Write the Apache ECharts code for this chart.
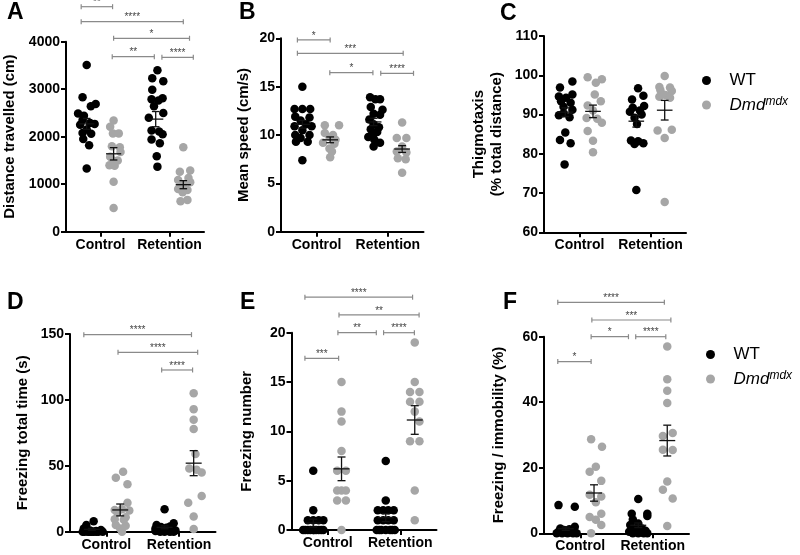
<!DOCTYPE html>
<html><head><meta charset="utf-8">
<script src="https://cdn.jsdelivr.net/npm/echarts@6/dist/echarts.min.js"></script>
<style>html,body{margin:0;padding:0;background:#fff}#c{width:800px;height:555px}</style>
</head><body><div id="c"></div>
<script>
// ---------------- DATA ----------------
const CATEGORIES = ['Control', 'Retention'];
const CATEGORY_X = [1, 3];                 // axis position of each category tick
const GROUP_X = [0.6, 1.38, 2.6, 3.4];     // WT-Control, mdx-Control, WT-Retention, mdx-Retention
const SERIES_NAMES = ['WT', 'Dmd^mdx'];

// Panel A: Distance travelled (cm)
const A_WT_CTRL = [3510, 2830, 2690, 2640, 2490, 2440, 2350, 2290, 2270, 2250, 2150, 2080, 2060, 1950, 1820, 1330];
const A_WT_CTRL_J = [0, -0.12, 0.26, 0.12, -0.25, -0.08, -0.12, 0.1, 0.23, -0.19, 0, -0.12, 0.13, -0.1, 0.07, 0];
const A_MDX_CTRL = [2340, 2210, 2070, 2070, 1800, 1780, 1680, 1580, 1500, 1500, 1400, 1390, 1050, 500];
const A_MDX_CTRL_J = [0, -0.1, -0.02, 0.15, -0.05, 0.18, 0.2, -0.1, -0.02, 0.12, -0.12, 0.03, 0, 0];
const A_WT_RET = [3400, 3230, 3170, 2990, 2810, 2790, 2760, 2640, 2500, 2400, 2130, 2110, 2050, 1940, 1860, 1590, 1370];
const A_WT_RET_J = [0.05, -0.1, 0.22, -0.1, 0.2, -0.12, 0.08, -0.05, 0.22, -0.2, -0.12, 0.1, 0.2, -0.12, 0.12, 0.03, 0.05];
const A_MDX_RET = [1780, 1290, 1260, 1130, 1090, 1040, 990, 900, 880, 830, 670, 640];
const A_MDX_RET_J = [0, 0.2, -0.1, 0.15, -0.15, 0.2, 0, -0.15, 0.12, -0.02, 0.12, -0.08];
const A_MEAN = [2270, 1640, 2370, 990];
const A_SEM = [115, 130, 160, 85];
const A_SIG = [[0.44, 1.35, 4737, '**'], [0.44, 3.40, 4421, '****'], [1.38, 3.58, 4072, '*'], [1.34, 2.56, 3684, '**'], [2.78, 3.69, 3672, '****']];

// Panel B: Mean speed (cm/s)
const B_WT_CTRL = [15.0, 12.7, 12.7, 12.7, 11.9, 11.8, 11.5, 11.1, 10.9, 10.9, 10.5, 10.0, 10.0, 9.7, 9.3, 9.3, 7.4];
const B_WT_CTRL_J = [0, -0.22, 0, 0.22, -0.2, 0.2, -0.05, 0.1, -0.22, 0.26, 0, -0.2, 0.2, -0.05, -0.18, 0.15, 0];
const B_MDX_CTRL = [11.0, 11.0, 10.2, 10.0, 9.8, 9.5, 9.2, 9.1, 8.6, 8.3, 7.7];
const B_MDX_CTRL_J = [-0.15, 0.25, -0.15, 0.08, -0.02, 0.15, -0.2, 0.12, -0.02, 0.05, 0];
const B_WT_RET = [13.9, 13.7, 13.7, 12.9, 12.6, 12.2, 12.1, 11.6, 11.1, 10.8, 10.6, 10.3, 10.0, 9.8, 9.5, 9.2, 8.8];
const B_WT_RET_J = [-0.1, 0.05, 0.18, -0.08, 0.25, 0, 0.18, -0.12, 0, 0.15, -0.08, 0.1, -0.02, -0.15, 0.02, 0.18, 0];
const B_MDX_RET = [11.3, 9.7, 9.7, 8.8, 8.3, 8.2, 7.6, 7.5, 6.1];
const B_MDX_RET_J = [0, -0.15, 0.12, 0, -0.15, 0.12, -0.12, 0.1, 0];
const B_MEAN = [11.1, 9.5, 11.35, 8.55];
const B_SEM = [0.4, 0.3, 0.38, 0.35];
const B_SIG = [[0.46, 1.38, 19.83, '*'], [0.46, 3.43, 18.45, '***'], [1.37, 2.58, 16.45, '*'], [2.80, 3.72, 16.38, '****']];

// Panel C: Thigmotaxis (% total distance)
const C_WT_CTRL = [98.4, 96.9, 95.1, 94.6, 94.3, 93.4, 93.0, 92.0, 91.2, 90.3, 89.8, 89.3, 85.4, 83.5, 82.7, 77.3];
const C_WT_CTRL_J = [0.2, -0.15, 0.2, -0.18, 0.02, -0.12, 0.15, -0.05, 0.2, -0.05, -0.18, 0.12, 0, -0.15, 0.15, -0.02];
const C_MDX_CTRL = [99.5, 99.0, 98.1, 95.1, 93.4, 92.3, 91.0, 89.1, 88.9, 87.9, 85.8, 83.3, 80.4];
const C_MDX_CTRL_J = [-0.15, 0.25, 0.08, 0.05, 0.22, -0.15, 0, -0.18, 0.12, 0.25, -0.15, 0, 0];
const C_WT_RET = [96.7, 94.8, 93.8, 92.2, 91.7, 91.0, 90.7, 90.0, 89.2, 87.6, 83.4, 83.2, 82.7, 82.5, 70.8];
const C_WT_RET_J = [0.05, 0.2, -0.12, 0.22, -0.1, 0.1, -0.18, 0.15, -0.05, 0.02, -0.15, 0.05, 0.2, -0.05, 0];
const C_MDX_RET = [99.8, 97.0, 96.9, 96.2, 96.0, 95.0, 94.5, 94.3, 86.1, 85.9, 84.0, 67.7];
const C_MDX_RET_J = [0, -0.15, 0.15, -0.12, 0.2, 0.02, -0.15, 0.15, 0.2, -0.2, 0, 0];
const C_MEAN = [90.6, 90.8, 88.3, 91.1];
const C_SEM = [1.1, 1.6, 1.5, 2.5];
const C_SIG = [];

// Panel D: Freezing total time (s)
const D_WT_CTRL = [8.0, 5.0, 2.5, 1.3, 1.0, 0.5, 0.3, 0, 0, 0, 0, 0, 0, 0, 0, 0];
const D_WT_CTRL_J = [0.05, -0.15, -0.22, 0.25, -0.05, 0.12, -0.12, -0.25, -0.1, 0.05, 0.18, 0.3, -0.2, 0, 0.12, -0.05];
const D_MDX_CTRL = [45.5, 41, 36, 22, 17, 16.5, 16, 14.5, 11, 9.5, 9, 5, 4.5, 2.5, 0];
const D_MDX_CTRL_J = [0.08, -0.12, 0.2, 0.2, 0.05, -0.15, 0.25, -0.08, 0.15, -0.15, 0.1, -0.12, 0.15, 0, 0.05];
const D_WT_RET = [17, 6.5, 5, 4, 3.5, 3, 2.5, 2, 1.5, 1, 1, 0.5, 0.5, 0, 0, 0, 0];
const D_WT_RET_J = [0, 0.25, -0.22, 0.15, -0.1, 0.05, -0.25, 0.2, -0.05, 0.3, -0.15, 0.1, -0.25, 0, 0.15, -0.12, 0.25];
const D_MDX_RET = [105, 93, 85, 78, 59, 48, 47, 45, 27, 22, 11.5, 2];
const D_MDX_RET_J = [0, 0, 0, 0, 0.05, -0.12, 0.08, 0.22, 0.22, -0.15, 0, 0];
const D_MEAN = [1.8, 16.5, 3.3, 52];
const D_SEM = [0.7, 4.5, 1.1, 9.5];
const D_SIG = [[0.38, 3.34, 149.5, '****'], [1.32, 3.51, 136.1, '****'], [2.52, 3.37, 122.7, '****']];

// Panel E: Freezing number
const E_WT_CTRL = [6, 2, 1, 1, 1, 1, 0, 0, 0, 0, 0, 0, 0, 0, 0, 0];
const E_WT_CTRL_J = [0, 0, -0.15, 0, 0.15, 0.28, -0.28, -0.15, 0, 0.15, 0.28, -0.22, -0.08, 0.08, 0.22, 0.02];
const E_MDX_CTRL = [15, 12, 11, 8, 6, 6, 4, 4, 4, 3, 3, 0];
const E_MDX_CTRL_J = [0, 0, 0, 0, -0.12, 0.12, -0.12, 0, 0.12, -0.12, 0.12, 0];
const E_WT_RET = [7, 3, 2, 2, 2, 2, 1, 1, 1, 1, 0, 0, 0, 0, 0, 0, 0];
const E_WT_RET_J = [0, 0, -0.22, -0.07, 0.07, 0.22, -0.22, -0.07, 0.07, 0.22, -0.25, -0.12, 0, 0.12, 0.25, -0.18, 0.18];
const E_MDX_RET = [19, 15, 14, 14, 13, 13, 12, 11, 9, 9, 4, 1];
const E_MDX_RET_J = [0, 0, -0.13, 0.13, -0.13, 0.13, 0, 0.13, -0.13, 0.13, 0, 0];
const E_MEAN = [0.7, 6.2, 1.25, 11.15];
const E_SEM = [0.4, 1.2, 0.4, 1.45];
const E_SIG = [[0.37, 3.34, 23.6, '****'], [1.31, 3.52, 21.8, '**'], [1.28, 2.34, 20.0, '**'], [2.54, 3.39, 20.0, '****'], [0.37, 1.30, 17.4, '***']];

// Panel F: Freezing / immobility (%)
const F_WT_CTRL = [8.6, 8.1, 2.0, 1.5, 1.2, 1.0, 0.8, 0.5, 0.3, 0.2, 0, 0, 0, 0, 0];
const F_WT_CTRL_J = [-0.2, 0.25, 0.25, -0.15, 0.1, -0.05, 0.2, -0.2, 0.15, -0.1, -0.25, -0.1, 0.05, 0.2, 0.3];
const F_MDX_CTRL = [28.7, 26.4, 20.3, 18.8, 16.0, 11.8, 11.2, 9.5, 6.0, 5.0, 4.1, 2.5, 0];
const F_MDX_CTRL_J = [-0.08, 0.22, 0.05, -0.12, 0.2, -0.12, 0.2, 0.05, 0.2, -0.12, 0.05, 0.2, -0.08];
const F_WT_RET = [10.5, 6.0, 6.0, 5.3, 4.2, 3.0, 2.5, 1.5, 1.0, 0.8, 0.5, 0, 0, 0, 0];
const F_WT_RET_J = [0, -0.18, 0.25, 0.25, -0.15, 0, -0.22, 0.1, -0.1, 0.2, -0.25, 0, 0.15, -0.15, 0.25];
const F_MDX_RET = [57, 47, 43.5, 39.8, 30.6, 29.7, 25.5, 25.4, 15.8, 13.3, 10.6, 2.2];
const F_MDX_RET_J = [0, 0, 0, 0, 0.15, -0.12, -0.12, 0.15, 0, -0.12, 0.15, 0];
const F_MEAN = [1.4, 12.3, 2.45, 28.3];
const F_SEM = [0.5, 2.5, 0.7, 4.7];
const F_SIG = [[0.38, 3.32, 70.5, '****'], [1.32, 3.50, 65.1, '***'], [1.30, 2.33, 60, '*'], [2.53, 3.36, 60, '****'], [0.38, 1.30, 52.4, '*']];

// Axis definitions
const Y_NAMES = ['Distance travelled (cm)', 'Mean speed (cm/s)', 'Thigmotaxis\n(% total distance)', 'Freezing total time (s)', 'Freezing number', 'Freezing / immobility (%)'];
const Y_MIN = [0, 0, 60, 0, 0, 0];
const Y_MAX = [4000, 20, 110, 150, 20, 60];
const Y_INTERVAL = [1000, 5, 10, 50, 5, 20];
const PANEL_LETTERS = ['A', 'B', 'C', 'D', 'E', 'F'];

// ---------------- LAYOUT ----------------
const FONT = "'Liberation Sans', Arial, Helvetica, sans-serif";
const GRIDS = [
  { left: 64, top: 41.7, width: 140, height: 190 },
  { left: 281, top: 38.3, width: 142.5, height: 193.4 },
  { left: 544, top: 36, width: 142, height: 196.3 },
  { left: 70, top: 334, width: 145.5, height: 197.7 },
  { left: 291.5, top: 332.7, width: 145, height: 197.3 },
  { left: 544, top: 336.7, width: 145, height: 196.6 }
];
const NAME_GAPS = [47, 28, 38, 38, 36, 36];
const LETTER_POS = [[7, 1], [239, 1], [500, 2], [7, 291], [240, 291], [503, 291]];
const BLACK = '#000000';
const GREY = '#a6a6a6';

const PANELS = [
  { wt: [A_WT_CTRL, A_WT_RET], wtJ: [A_WT_CTRL_J, A_WT_RET_J], mdx: [A_MDX_CTRL, A_MDX_RET], mdxJ: [A_MDX_CTRL_J, A_MDX_RET_J], mean: A_MEAN, sem: A_SEM, sig: A_SIG },
  { wt: [B_WT_CTRL, B_WT_RET], wtJ: [B_WT_CTRL_J, B_WT_RET_J], mdx: [B_MDX_CTRL, B_MDX_RET], mdxJ: [B_MDX_CTRL_J, B_MDX_RET_J], mean: B_MEAN, sem: B_SEM, sig: B_SIG },
  { wt: [C_WT_CTRL, C_WT_RET], wtJ: [C_WT_CTRL_J, C_WT_RET_J], mdx: [C_MDX_CTRL, C_MDX_RET], mdxJ: [C_MDX_CTRL_J, C_MDX_RET_J], mean: C_MEAN, sem: C_SEM, sig: C_SIG },
  { wt: [D_WT_CTRL, D_WT_RET], wtJ: [D_WT_CTRL_J, D_WT_RET_J], mdx: [D_MDX_CTRL, D_MDX_RET], mdxJ: [D_MDX_CTRL_J, D_MDX_RET_J], mean: D_MEAN, sem: D_SEM, sig: D_SIG },
  { wt: [E_WT_CTRL, E_WT_RET], wtJ: [E_WT_CTRL_J, E_WT_RET_J], mdx: [E_MDX_CTRL, E_MDX_RET], mdxJ: [E_MDX_CTRL_J, E_MDX_RET_J], mean: E_MEAN, sem: E_SEM, sig: E_SIG },
  { wt: [F_WT_CTRL, F_WT_RET], wtJ: [F_WT_CTRL_J, F_WT_RET_J], mdx: [F_MDX_CTRL, F_MDX_RET], mdxJ: [F_MDX_CTRL_J, F_MDX_RET_J], mean: F_MEAN, sem: F_SEM, sig: F_SIG }
];

function pts(valsByCat, jitByCat, groupIdx) {
  const out = [];
  valsByCat.forEach((vals, ci) => {
    const gx = GROUP_X[groupIdx[ci]];
    vals.forEach((v, i) => out.push([gx + jitByCat[ci][i], v]));
  });
  return out;
}

function renderMean(params, api) {
  const x = api.value(0), m = api.value(1), lo = api.value(2), hi = api.value(3);
  const c = api.coord([x, m]), cl = api.coord([x, lo]), ch = api.coord([x, hi]);
  const hw = api.size([0.22, 0])[0], cw = api.size([0.11, 0])[0];
  const st = { stroke: '#111', lineWidth: 1.3 };
  return { type: 'group', children: [
    { type: 'line', shape: { x1: c[0] - hw, y1: c[1], x2: c[0] + hw, y2: c[1] }, style: st },
    { type: 'line', shape: { x1: c[0], y1: cl[1], x2: c[0], y2: ch[1] }, style: st },
    { type: 'line', shape: { x1: c[0] - cw, y1: cl[1], x2: c[0] + cw, y2: cl[1] }, style: st },
    { type: 'line', shape: { x1: c[0] - cw, y1: ch[1], x2: c[0] + cw, y2: ch[1] }, style: st }
  ] };
}

function makeSigRender(sig) {
  return function (params, api) {
    const a = api.coord([api.value(0), api.value(2)]);
    const b = api.coord([api.value(1), api.value(2)]);
    const st = { stroke: '#8a8a8a', lineWidth: 1.2 };
    return { type: 'group', children: [
      { type: 'line', shape: { x1: a[0], y1: a[1], x2: b[0], y2: b[1] }, style: st },
      { type: 'line', shape: { x1: a[0], y1: a[1] - 2.5, x2: a[0], y2: a[1] + 2.5 }, style: st },
      { type: 'line', shape: { x1: b[0], y1: b[1] - 2.5, x2: b[0], y2: b[1] + 2.5 }, style: st },
      { type: 'text', x: (a[0] + b[0]) / 2, y: a[1] + 1, style: { text: sig[params.dataIndex][3], fill: '#444', font: '10px ' + FONT, textAlign: 'center', textVerticalAlign: 'bottom' } }
    ] };
  };
}

const grid = [], xAxis = [], yAxis = [], series = [], title = [];
PANELS.forEach((p, k) => {
  grid.push(Object.assign({ containLabel: false }, GRIDS[k]));
  xAxis.push({
    type: 'value', gridIndex: k, min: 0, max: 4,
    splitLine: { show: false },
    axisLine: { show: true, onZero: false, lineStyle: { color: BLACK, width: 2 } },
    axisTick: { show: true, customValues: CATEGORY_X, length: 5, lineStyle: { color: BLACK, width: 2 } },
    axisLabel: { customValues: CATEGORY_X, formatter: v => CATEGORIES[CATEGORY_X.indexOf(v)], color: BLACK, fontFamily: FONT, fontWeight: 'bold', fontSize: 14, margin: 6 }
  });
  yAxis.push({
    type: 'value', gridIndex: k, min: Y_MIN[k], max: Y_MAX[k], interval: Y_INTERVAL[k],
    name: Y_NAMES[k], nameLocation: 'middle', nameGap: NAME_GAPS[k],
    nameTextStyle: { color: BLACK, fontFamily: FONT, fontWeight: 'bold', fontSize: 15, lineHeight: 18 },
    splitLine: { show: false },
    axisLine: { show: true, lineStyle: { color: BLACK, width: 2 } },
    axisTick: { show: true, length: 5, lineStyle: { color: BLACK, width: 2 } },
    axisLabel: { formatter: v => String(v), color: BLACK, fontFamily: FONT, fontWeight: 'bold', fontSize: 14, margin: 6 }
  });
  series.push({ name: SERIES_NAMES[0], type: 'scatter', xAxisIndex: k, yAxisIndex: k, symbol: 'circle', symbolSize: 8.5, itemStyle: { color: BLACK, opacity: 1 }, data: pts(p.wt, p.wtJ, [0, 2]), z: 2 });
  series.push({ name: SERIES_NAMES[1], type: 'scatter', xAxisIndex: k, yAxisIndex: k, symbol: 'circle', symbolSize: 8.5, itemStyle: { color: GREY, opacity: 1 }, data: pts(p.mdx, p.mdxJ, [1, 3]), z: 2 });
  series.push({ type: 'custom', xAxisIndex: k, yAxisIndex: k, renderItem: renderMean, clip: false, z: 3, silent: true,
    encode: { x: 0, y: 1 },
    data: p.mean.map((m, g) => [GROUP_X[g], m, m - p.sem[g], m + p.sem[g]]) });
  if (p.sig.length) {
    series.push({ type: 'custom', xAxisIndex: k, yAxisIndex: k, renderItem: makeSigRender(p.sig), clip: false, z: 4, silent: true,
      encode: { x: [0, 1], y: 2 },
      data: p.sig.map(s => [s[0], s[1], s[2]]) });
  }
  title.push({ text: PANEL_LETTERS[k], left: LETTER_POS[k][0], top: LETTER_POS[k][1], padding: 0,
    textStyle: { fontFamily: FONT, fontWeight: 'bold', fontSize: 23, color: BLACK } });
});

const legendBase = {
  orient: 'vertical', data: SERIES_NAMES, itemWidth: 36, itemHeight: 9, itemGap: 7,
  selectedMode: false,
  formatter: n => n === 'WT' ? '{n|WT}' : '{i|Dmd}{s|mdx}',
  textStyle: {
    rich: {
      n: { fontFamily: FONT, fontSize: 17, color: BLACK, lineHeight: 18 },
      i: { fontFamily: FONT, fontSize: 17, fontStyle: 'italic', color: BLACK, lineHeight: 18 },
      s: { fontFamily: FONT, fontSize: 12, fontStyle: 'italic', color: BLACK, lineHeight: 18, verticalAlign: 'top', padding: [0, 0, 8, 0] }
    }
  }
};
const legend = [
  Object.assign({ left: 697, top: 67 }, legendBase),
  Object.assign({ left: 701, top: 341 }, legendBase)
];

const chart = echarts.init(document.getElementById('c'), null, { renderer: 'canvas' });
chart.setOption({ animation: false, backgroundColor: '#fff', title, grid, xAxis, yAxis, series, legend });
</script></body></html>
